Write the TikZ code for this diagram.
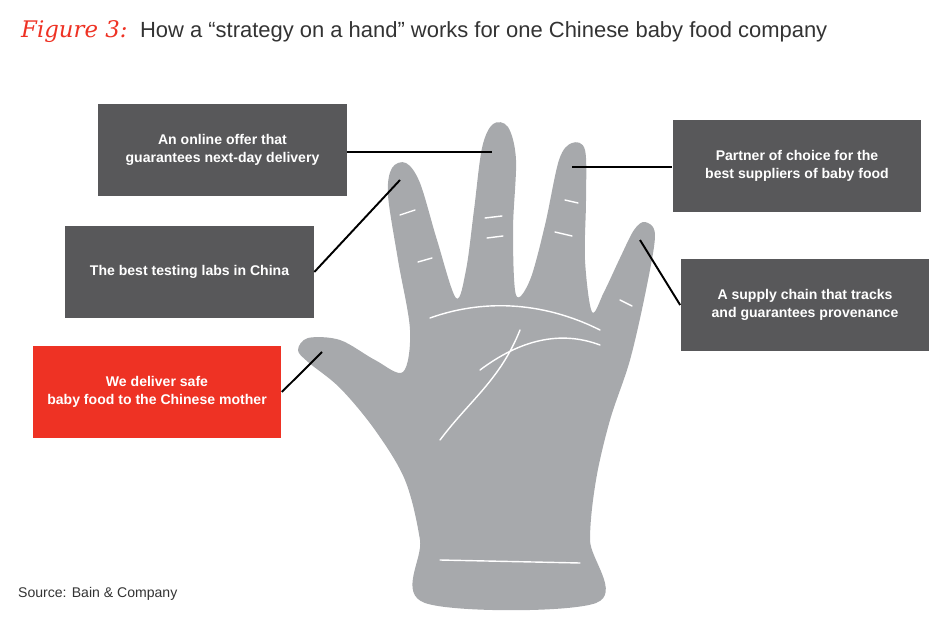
\documentclass[tikz,border=0pt]{standalone}
\usepackage{fontspec}
\setmainfont{Liberation Sans}
\newfontfamily\figfont{DejaVu Serif}
\definecolor{boxgray}{HTML}{58585A}
\definecolor{handgray}{HTML}{A7A9AC}
\definecolor{bainred}{HTML}{EE3224}
\tikzset{
  box/.style={fill=boxgray, text=white, font=\bfseries\fontsize{8}{10.5}\selectfont, align=center, minimum width=4.98cm, minimum height=1.84cm, inner sep=0pt},
  redbox/.style={box, fill=bainred},
  pointer/.style={line width=1.1pt},
  crease/.style={white, line width=0.8pt, line cap=round}
}
\begin{document}
\begin{tikzpicture}[x=0.02cm, y=-0.02cm]
\useasboundingbox (0,0) rectangle (950,625);

\node[anchor=west, text=bainred, font=\figfont\itshape\fontsize{13}{15}\selectfont] (fig) at (15,32) {Figure 3:};
\node[anchor=west, font=\fontsize{12.5}{15}\selectfont, text=black!80] (title) at (fig.east) {How a ``strategy on a hand'' works for one Chinese baby food company};

% hand
\fill[handgray] plot[smooth cycle, tension=0.55] coordinates {
 (425,603) (420,540) (405,480) (375,430) (340,388) (308,362) (298,350) (308,338) (340,340)
 (375,360) (403,372) (410,330) (398,260) (388,195) (392,168) (406,163) (420,183) (437,240)
 (456,298) (466,270) (474,210) (482,148) (493,124) (508,127) (516,160) (513,230) (516,295)
 (530,280) (545,225) (559,160) (572,143) (585,150) (586,200) (585,260) (592,312) (604,292)
 (620,258) (634,230) (645,222) (655,235) (646,290) (630,360) (610,420) (596,480) (590,540) (596,603)};
\draw[crease] (400,215) -- (415,210);
\draw[crease] (418,262) -- (432,258);
\draw[crease] (485,218) -- (502,216);
\draw[crease] (487,238) -- (503,236);
\draw[crease] (555,232) -- (572,236);
\draw[crease] (565,200) -- (578,203);
\draw[crease] (620,300) -- (632,306);
\draw[crease] (430,318) .. controls (480,300) and (540,300) .. (600,330);
\draw[crease] (480,370) .. controls (520,340) and (560,330) .. (600,345);
\draw[crease] (440,440) .. controls (470,400) and (500,380) .. (520,330);
\draw[crease] (440,560) -- (580,563);

% boxes
\node[box] (online) at (222.5,150) {An online offer that\\guarantees next-day delivery};
\node[box] (labs) at (189.5,272) {The best testing labs in China};
\node[redbox] (safe) at (157,392) {We deliver safe\\baby food to the Chinese mother};
\node[box] (partner) at (797,166) {Partner of choice for the\\best suppliers of baby food};
\node[box] (supply) at (805,305) {A supply chain that tracks\\and guarantees provenance};

\coordinate (middle) at (492,152);
\coordinate (index) at (400,180);
\coordinate (thumb) at (322,352);
\coordinate (ring) at (572,167);
\coordinate (pinky) at (640,240);

\draw[pointer] (online.east |- middle) -- (middle);
\draw[pointer] (labs.east) -- (index);
\draw[pointer] (safe.east) -- (thumb);
\draw[pointer] (partner.west |- ring) -- (ring);
\draw[pointer] (supply.west) -- (pinky);

\node[anchor=west, font=\fontsize{8}{10}\selectfont, text=black!80] (source) at (12,594) {Source: Bain \& Company};
\end{tikzpicture}
\end{document}
